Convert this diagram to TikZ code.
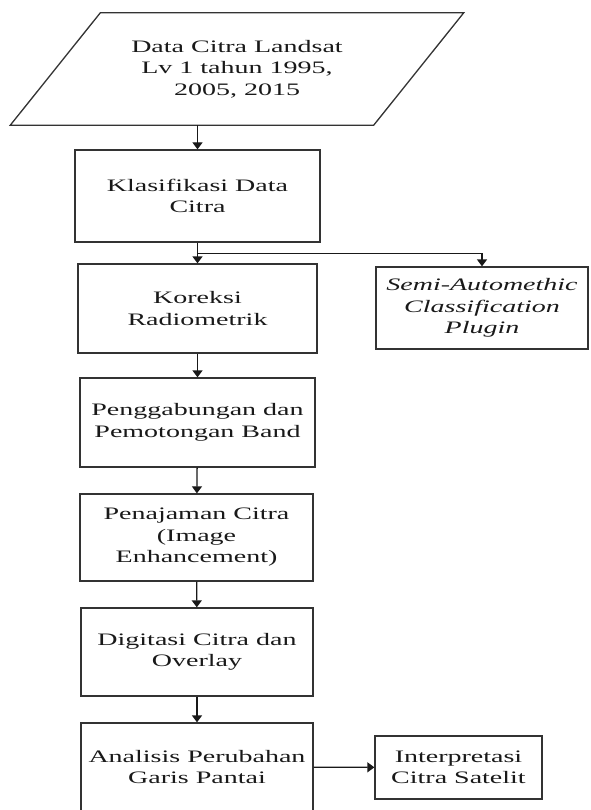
\documentclass[tikz,border=0pt]{standalone}
\usepackage{fontspec}
\setmainfont[FakeStretch=1.6]{Liberation Serif}
\usetikzlibrary{arrows.meta}

\begin{document}
\begin{tikzpicture}[x=1pt,y=-1pt,
  txt/.style={align=center,text=black!90,font=\fontsize{17.5}{21.5}\selectfont},
  box/.style={txt,draw=black!80,line width=1.3pt,minimum width=235pt,minimum height=89pt},
  arr/.style={draw=black!90,line width=1.3pt,-{Triangle[length=7pt,width=10pt]}}]
\useasboundingbox (0,0) rectangle (590,810);
% input data (parallelogram)
\node[txt,minimum width=273pt,minimum height=112pt] (data) at (237,69)
  {Data Citra Landsat\\ Lv 1 tahun 1995,\\ 2005, 2015};
\draw[draw=black!80,line width=1.3pt] (data.north west) -- ([xshift=90pt]data.north east)
  -- (data.south east) -- ([xshift=-90pt]data.south west) -- cycle;
% main column
\node[box,minimum width=245pt,minimum height=92pt] (klas) at (197.5,196) {Klasifikasi Data\\ Citra};
\node[box,minimum width=239pt] (kor) at (197.5,308.5) {Koreksi\\ Radiometrik};
\node[box] (gab) at (197.5,422.5) {Penggabungan dan\\ Pemotongan Band};
\node[box,minimum width=233pt,minimum height=87pt] (taj) at (196.5,537.5) {Penajaman Citra\\ (Image\\ Enhancement)};
\node[box,minimum width=232pt,minimum height=88pt] (dig) at (197,652) {Digitasi Citra dan\\ Overlay};
\node[box,minimum width=232pt,minimum height=88pt] (ana) at (197,767) {Analisis Perubahan\\ Garis Pantai};
% side boxes
\node[box,minimum width=212pt,minimum height=82pt,font=\fontsize{17.5}{21.5}\selectfont\itshape] (semi) at (482,308)
  {Semi-Automethic\\ Classification\\ Plugin};
\node[box,minimum width=167pt,minimum height=63pt] (interp) at (458.5,767.5) {Interpretasi\\ Citra Satelit};
% connectors
\draw[arr] (data.south -| klas.north) -- (klas.north);
\draw[arr] (klas.south) -- (kor.north);
\draw[arr] (klas.south) -- ++(0,11) -| (semi.north);
\draw[arr] (kor) -- (gab);
\draw[arr] (gab) -- (taj);
\draw[arr] (taj) -- (dig);
\draw[arr] (dig) -- (ana);
\draw[arr] (ana) -- (interp);
\end{tikzpicture}
\end{document}
